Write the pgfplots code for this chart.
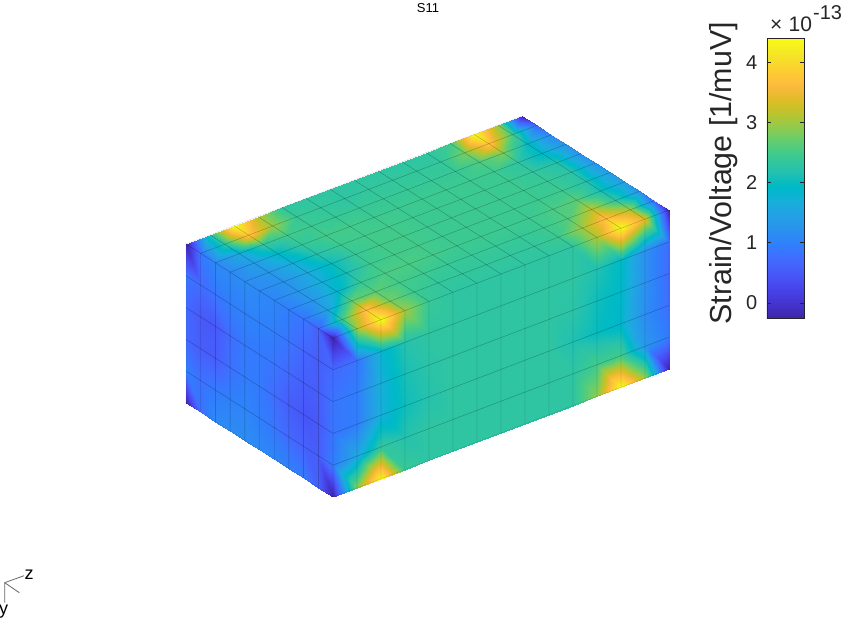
\documentclass[border=0pt]{standalone}
\usepackage{fontspec}
\setmainfont{Liberation Sans}
\usepackage{pgfplots}
\usepackage{pgfplotstable}
\pgfplotsset{compat=1.18}
\definecolor{txt}{RGB}{38,38,38}
\pgfplotsset{colormap={parula}{
  rgb=(0.2422,0.1504,0.6603) rgb=(0.2504,0.1650,0.7076) rgb=(0.2578,0.1818,0.7511) rgb=(0.2647,0.1978,0.7952)
  rgb=(0.2706,0.2147,0.8364) rgb=(0.2751,0.2342,0.8710) rgb=(0.2783,0.2559,0.8991) rgb=(0.2803,0.2782,0.9221)
  rgb=(0.2813,0.3006,0.9414) rgb=(0.2810,0.3228,0.9579) rgb=(0.2795,0.3447,0.9717) rgb=(0.2760,0.3667,0.9829)
  rgb=(0.2699,0.3892,0.9906) rgb=(0.2602,0.4123,0.9952) rgb=(0.2440,0.4358,0.9988) rgb=(0.2206,0.4603,0.9973)
  rgb=(0.1963,0.4847,0.9892) rgb=(0.1834,0.5074,0.9798) rgb=(0.1786,0.5289,0.9682) rgb=(0.1764,0.5499,0.9520)
  rgb=(0.1687,0.5703,0.9359) rgb=(0.1540,0.5902,0.9218) rgb=(0.1460,0.6091,0.9079) rgb=(0.1380,0.6276,0.8973)
  rgb=(0.1248,0.6459,0.8883) rgb=(0.1113,0.6635,0.8763) rgb=(0.0952,0.6798,0.8598) rgb=(0.0689,0.6948,0.8394)
  rgb=(0.0297,0.7082,0.8163) rgb=(0.0036,0.7203,0.7917) rgb=(0.0067,0.7312,0.7660) rgb=(0.0433,0.7411,0.7394)
  rgb=(0.0964,0.7500,0.7120) rgb=(0.1408,0.7584,0.6842) rgb=(0.1717,0.7670,0.6554) rgb=(0.1938,0.7758,0.6251)
  rgb=(0.2161,0.7843,0.5923) rgb=(0.2470,0.7918,0.5567) rgb=(0.2906,0.7973,0.5188) rgb=(0.3406,0.8008,0.4789)
  rgb=(0.3909,0.8029,0.4354) rgb=(0.4456,0.8024,0.3909) rgb=(0.5044,0.7993,0.3480) rgb=(0.5616,0.7942,0.3045)
  rgb=(0.6174,0.7876,0.2612) rgb=(0.6720,0.7793,0.2227) rgb=(0.7242,0.7698,0.1910) rgb=(0.7738,0.7598,0.1646)
  rgb=(0.8203,0.7498,0.1535) rgb=(0.8634,0.7406,0.1596) rgb=(0.9035,0.7330,0.1774) rgb=(0.9393,0.7288,0.2100)
  rgb=(0.9728,0.7298,0.2394) rgb=(0.9956,0.7434,0.2371) rgb=(0.9970,0.7659,0.2199) rgb=(0.9952,0.7861,0.1996)
  rgb=(0.9892,0.8136,0.1885) rgb=(0.9786,0.8386,0.1766) rgb=(0.9676,0.8639,0.1643) rgb=(0.9610,0.8890,0.1537)
  rgb=(0.9597,0.9135,0.1423) rgb=(0.9628,0.9373,0.1265) rgb=(0.9691,0.9606,0.1064) rgb=(0.9769,0.9839,0.0805)}}
% top face, y=0, one source line per x
\pgfplotstableread[row sep=\\]{
x y z c\\
0 0 0 -0.25\\0 0 1 2.2\\0 0 2 4.4\\0 0 3 3.1\\0 0 4 2.3\\0 0 5 2.3\\0 0 6 2.3\\0 0 7 2.3\\0 0 8 2.3\\0 0 9 2.3\\0 0 10 2.3\\0 0 11 2.5\\0 0 12 4.4\\0 0 13 2.9\\0 0 14 -0.25\\
1 0 0 0.9\\1 0 1 2.3\\1 0 2 3.8\\1 0 3 2.95\\1 0 4 2.4\\1 0 5 2.35\\1 0 6 2.3\\1 0 7 2.35\\1 0 8 2.35\\1 0 9 2.35\\1 0 10 2.35\\1 0 11 2.8\\1 0 12 3.8\\1 0 13 2.5\\1 0 14 0.7\\
2 0 0 1.1\\2 0 1 1.6\\2 0 2 2.3\\2 0 3 2.5\\2 0 4 2.45\\2 0 5 2.4\\2 0 6 2.4\\2 0 7 2.4\\2 0 8 2.4\\2 0 9 2.4\\2 0 10 2.4\\2 0 11 2.55\\2 0 12 2.8\\2 0 13 2.0\\2 0 14 1.1\\
3 0 0 1.1\\3 0 1 1.4\\3 0 2 1.9\\3 0 3 2.35\\3 0 4 2.5\\3 0 5 2.5\\3 0 6 2.45\\3 0 7 2.45\\3 0 8 2.45\\3 0 9 2.45\\3 0 10 2.45\\3 0 11 2.45\\3 0 12 2.3\\3 0 13 1.9\\3 0 14 1.25\\
4 0 0 1.15\\4 0 1 1.3\\4 0 2 1.7\\4 0 3 2.2\\4 0 4 2.45\\4 0 5 2.5\\4 0 6 2.5\\4 0 7 2.45\\4 0 8 2.45\\4 0 9 2.45\\4 0 10 2.45\\4 0 11 2.45\\4 0 12 2.35\\4 0 13 2.2\\4 0 14 1.2\\
5 0 0 1.1\\5 0 1 1.25\\5 0 2 1.6\\5 0 3 2.0\\5 0 4 2.4\\5 0 5 2.5\\5 0 6 2.5\\5 0 7 2.45\\5 0 8 2.45\\5 0 9 2.45\\5 0 10 2.45\\5 0 11 2.45\\5 0 12 2.4\\5 0 13 2.25\\5 0 14 1.25\\
6 0 0 1.05\\6 0 1 1.3\\6 0 2 1.7\\6 0 3 2.1\\6 0 4 2.45\\6 0 5 2.5\\6 0 6 2.5\\6 0 7 2.45\\6 0 8 2.45\\6 0 9 2.45\\6 0 10 2.45\\6 0 11 2.45\\6 0 12 2.45\\6 0 13 2.2\\6 0 14 1.35\\
7 0 0 0.95\\7 0 1 1.3\\7 0 2 1.85\\7 0 3 2.4\\7 0 4 2.55\\7 0 5 2.55\\7 0 6 2.5\\7 0 7 2.45\\7 0 8 2.45\\7 0 9 2.45\\7 0 10 2.45\\7 0 11 2.55\\7 0 12 2.65\\7 0 13 2.1\\7 0 14 1.4\\
8 0 0 0.85\\8 0 1 1.5\\8 0 2 2.7\\8 0 3 2.65\\8 0 4 2.5\\8 0 5 2.45\\8 0 6 2.4\\8 0 7 2.4\\8 0 8 2.4\\8 0 9 2.4\\8 0 10 2.45\\8 0 11 2.6\\8 0 12 3.2\\8 0 13 2.3\\8 0 14 1.2\\
9 0 0 0.6\\9 0 1 2.5\\9 0 2 3.8\\9 0 3 2.8\\9 0 4 2.45\\9 0 5 2.35\\9 0 6 2.35\\9 0 7 2.35\\9 0 8 2.35\\9 0 9 2.35\\9 0 10 2.45\\9 0 11 3.0\\9 0 12 3.8\\9 0 13 3.1\\9 0 14 0.7\\
10 0 0 -0.25\\10 0 1 3.0\\10 0 2 4.4\\10 0 3 3.0\\10 0 4 2.4\\10 0 5 2.3\\10 0 6 2.3\\10 0 7 2.3\\10 0 8 2.3\\10 0 9 2.3\\10 0 10 2.3\\10 0 11 3.1\\10 0 12 4.4\\10 0 13 3.4\\10 0 14 -0.25\\
}\topface
% left face, z=0
\pgfplotstableread[row sep=\\]{
x y z c\\
0 0 0 -0.25\\1 0 0 0.9\\2 0 0 1.1\\3 0 0 1.1\\4 0 0 1.15\\5 0 0 1.1\\6 0 0 1.05\\7 0 0 0.95\\8 0 0 0.85\\9 0 0 0.6\\10 0 0 -0.25\\
0 1 0 0.85\\1 1 0 0.75\\2 1 0 0.85\\3 1 0 0.95\\4 1 0 1.0\\5 1 0 1.0\\6 1 0 0.95\\7 1 0 0.85\\8 1 0 0.65\\9 1 0 0.55\\10 1 0 0.7\\
0 2 0 0.7\\1 2 0 0.5\\2 2 0 0.5\\3 2 0 0.75\\4 2 0 0.9\\5 2 0 0.9\\6 2 0 0.85\\7 2 0 0.7\\8 2 0 0.55\\9 2 0 0.55\\10 2 0 0.85\\
0 3 0 0.7\\1 3 0 0.55\\2 3 0 0.55\\3 3 0 0.8\\4 3 0 0.95\\5 3 0 0.9\\6 3 0 0.75\\7 3 0 0.55\\8 3 0 0.45\\9 3 0 0.5\\10 3 0 0.85\\
0 4 0 0.95\\1 4 0 0.8\\2 4 0 0.9\\3 4 0 1.0\\4 4 0 1.05\\5 4 0 0.95\\6 4 0 0.85\\7 4 0 0.7\\8 4 0 0.6\\9 4 0 0.55\\10 4 0 0.95\\
0 5 0 -0.25\\1 5 0 0.8\\2 5 0 1.1\\3 5 0 1.15\\4 5 0 1.15\\5 5 0 1.1\\6 5 0 1.05\\7 5 0 1.0\\8 5 0 0.9\\9 5 0 0.6\\10 5 0 -0.25\\
}\leftface
% right face, x=10
\pgfplotstableread[row sep=\\]{
x y z c\\
10 0 0 -0.25\\10 0 1 3.0\\10 0 2 4.4\\10 0 3 3.0\\10 0 4 2.4\\10 0 5 2.3\\10 0 6 2.3\\10 0 7 2.3\\10 0 8 2.3\\10 0 9 2.3\\10 0 10 2.3\\10 0 11 3.1\\10 0 12 4.4\\10 0 13 3.4\\10 0 14 -0.25\\
10 1 0 0.7\\10 1 1 0.85\\10 1 2 1.8\\10 1 3 2.2\\10 1 4 2.3\\10 1 5 2.3\\10 1 6 2.3\\10 1 7 2.3\\10 1 8 2.3\\10 1 9 2.3\\10 1 10 2.3\\10 1 11 2.15\\10 1 12 1.95\\10 1 13 1.2\\10 1 14 0.75\\
10 2 0 0.85\\10 2 1 0.95\\10 2 2 1.7\\10 2 3 2.1\\10 2 4 2.25\\10 2 5 2.3\\10 2 6 2.3\\10 2 7 2.3\\10 2 8 2.3\\10 2 9 2.3\\10 2 10 2.25\\10 2 11 2.05\\10 2 12 1.9\\10 2 13 1.2\\10 2 14 0.7\\
10 3 0 0.85\\10 3 1 0.95\\10 3 2 1.7\\10 3 3 2.05\\10 3 4 2.2\\10 3 5 2.3\\10 3 6 2.3\\10 3 7 2.3\\10 3 8 2.3\\10 3 9 2.3\\10 3 10 2.15\\10 3 11 2.0\\10 3 12 1.85\\10 3 13 1.15\\10 3 14 0.75\\
10 4 0 0.95\\10 4 1 1.55\\10 4 2 2.35\\10 4 3 2.2\\10 4 4 2.3\\10 4 5 2.3\\10 4 6 2.3\\10 4 7 2.3\\10 4 8 2.3\\10 4 9 2.3\\10 4 10 2.3\\10 4 11 2.5\\10 4 12 2.5\\10 4 13 1.3\\10 4 14 0.9\\
10 5 0 -0.25\\10 5 1 2.9\\10 5 2 4.4\\10 5 3 2.4\\10 5 4 2.3\\10 5 5 2.3\\10 5 6 2.3\\10 5 7 2.3\\10 5 8 2.3\\10 5 9 2.3\\10 5 10 2.3\\10 5 11 2.9\\10 5 12 4.4\\10 5 13 3.0\\10 5 14 -0.25\\
}\rightface
\begin{document}
\begin{tikzpicture}[x=1pt,y=1pt]
\path[use as bounding box] (0,0) rectangle (844,621);
\coordinate (boxo) at (186,377);
\coordinate (cb) at (758.3,302.7);
\begin{axis}[
    at={(boxo)}, anchor=origin,
    x={(14.7pt,-9.4pt)}, y={(0pt,-31.8pt)}, z={(24pt,9.14pt)},
    xmin=0, xmax=10, ymin=0, ymax=5, zmin=0, zmax=14,
    hide axis, clip=false,
    colormap name=parula,
    point meta min=-0.26, point meta max=4.4,
]
\addplot3[surf, shader=interp, mesh/rows=11, point meta=explicit] table[x=x,y=y,z=z,meta=c] {\topface};
\addplot3[surf, shader=interp, mesh/rows=6, point meta=explicit] table[x=x,y=y,z=z,meta=c] {\leftface};
\addplot3[surf, shader=interp, mesh/rows=6, point meta=explicit] table[x=x,y=y,z=z,meta=c] {\rightface};
\addplot3[mesh, draw=black, draw opacity=0.15, mesh/rows=11, point meta=explicit] table[x=x,y=y,z=z,meta=c] {\topface};
\addplot3[mesh, draw=black, draw opacity=0.15, mesh/rows=6, point meta=explicit] table[x=x,y=y,z=z,meta=c] {\leftface};
\addplot3[mesh, draw=black, draw opacity=0.15, mesh/rows=6, point meta=explicit] table[x=x,y=y,z=z,meta=c] {\rightface};
\end{axis}
% colorbar, carried by an empty hidden axis
\begin{axis}[
    at={(cb)}, anchor=south west,
    scale only axis, width=1pt, height=1pt,
    xmin=0, xmax=1, ymin=0, ymax=1,
    hide axis,
    colormap name=parula,
    point meta min=-0.26, point meta max=4.4,
    colorbar,
    colorbar/width=37.4pt,
    colorbar style={
        at={(cb)}, anchor=south west,
        hide axis=false,
        scale only axis,
        height=280pt,
        ytick={0,1,2,3,4},
        yticklabel pos=left,
        ylabel={Strain/Voltage [1/muV]},
        ylabel style={font=\fontsize{30.4}{30.4}\selectfont, text=txt, xshift=5pt, yshift=2pt},
        tick align=inside,
        major tick length=4pt,
        tick style={draw=txt},
        axis line style={draw=txt},
        yticklabel style={font=\fontsize{20}{20}\selectfont, text=txt, xshift=-6pt, /pgf/number format/assume math mode=true},
    },
]
\end{axis}
\node[font=\fontsize{13}{13}\selectfont, text=black] at (428,613) {S11};
\node[anchor=base west, inner sep=0pt, text=txt, font=\fontsize{21}{21}\selectfont] at (770,589) {×};
\node[anchor=base west, inner sep=0pt, text=txt, font=\fontsize{21}{21}\selectfont] at (788.5,589) {10};
\node[anchor=base west, inner sep=0pt, text=txt, font=\fontsize{20}{20}\selectfont] at (813,601) {-13};
% orientation triad
\draw[gray!80!black, line width=0.8pt] (24,45.3) -- (4.7,38.3) -- (4.7,18.3);
\draw[gray!80!black, line width=0.8pt] (4.7,38.3) -- (19.3,28.3);
\node[font=\fontsize{18}{18}\selectfont] at (29,46.5) {z};
\node[font=\fontsize{18}{18}\selectfont] at (3.5,9.5) {y};
\end{tikzpicture}
\end{document}
